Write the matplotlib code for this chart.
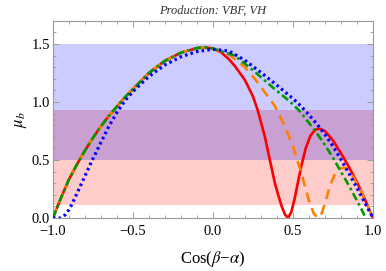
import numpy as np
import matplotlib
matplotlib.use("Agg")
import matplotlib.pyplot as plt
from matplotlib.ticker import MultipleLocator

plt.rcParams['font.family'] = ['Liberation Serif', 'DejaVu Serif']
plt.rcParams['mathtext.fontset'] = 'stix'

# values
left_x = [-1.0, -0.975, -0.95, -0.9, -0.85, -0.8, -0.75, -0.7, -0.65, -0.6, -0.55, -0.5,
          -0.4, -0.3, -0.2, -0.1, -0.05, 0.0]
left_y = [0.0, 0.085, 0.17, 0.33, 0.46, 0.58, 0.69, 0.79, 0.88, 0.96, 1.04, 1.11,
          1.25, 1.355, 1.425, 1.465, 1.472, 1.462]

red_x = left_x + [0.05, 0.1, 0.1375, 0.2, 0.25, 0.28, 0.325,
                  0.356, 0.3875, 0.41, 0.43, 0.45, 0.47, 0.49, 0.51, 0.535, 0.555, 0.58, 0.61,
                  0.64, 0.667, 0.7, 0.75, 0.8, 0.85, 0.9, 0.95, 1.0]
red_y = left_y + [1.43, 1.37, 1.31, 1.19, 1.05, 0.93, 0.70,
                  0.5, 0.30, 0.19, 0.10, 0.03, 0.0, 0.05, 0.16, 0.33, 0.46, 0.60, 0.71,
                  0.76, 0.77, 0.75, 0.67, 0.56, 0.44, 0.31, 0.16, 0.0]

orange_x = left_x + [0.1, 0.2, 0.2625, 0.3, 0.3875, 0.45, 0.5,
                     0.55, 0.6, 0.63, 0.655, 0.68, 0.7, 0.73, 0.76, 0.8, 0.83, 0.86, 0.9, 0.95, 1.0]
orange_y = left_y + [1.41, 1.30, 1.20, 1.13, 0.965, 0.79, 0.62,
                     0.40, 0.15, 0.04, 0.0, 0.04, 0.12, 0.27, 0.37, 0.43, 0.43, 0.39, 0.30, 0.16, 0.0]

green_x = left_x + [0.1375, 0.2625, 0.3875, 0.45, 0.5, 0.55, 0.6,
                    0.65, 0.7, 0.75, 0.8, 0.85, 0.9, 0.93, 0.955]
green_y = left_y + [1.40, 1.26, 1.11, 1.04, 0.98, 0.91, 0.82,
                    0.73, 0.63, 0.52, 0.40, 0.28, 0.15, 0.07, 0.0]

blue_x = [-1.0, -0.95, -0.92, -0.9, -0.88, -0.85, -0.8, -0.75, -0.7, -0.65, -0.6, -0.55,
          -0.5, -0.4, -0.3, -0.2, -0.1, 0.0, 0.1, 0.2, 0.3, 0.4, 0.5, 0.55, 0.6, 0.65,
          0.7, 0.75, 0.8, 0.85, 0.9, 0.95, 1.0]
blue_y = [0.0, 0.0, 0.03, 0.07, 0.12, 0.21, 0.36, 0.51, 0.65, 0.79, 0.91, 1.01,
          1.09, 1.22, 1.32, 1.39, 1.435, 1.455, 1.44, 1.36, 1.255, 1.145, 1.03, 0.965, 0.89, 0.81,
          0.72, 0.62, 0.505, 0.385, 0.26, 0.13, 0.0]

band_blue = (0.5, 1.5)
band_red = (0.113, 0.93)

fig = plt.figure(figsize=(3.86, 2.71), dpi=100)
ax = fig.add_axes([0.137, 0.196, 0.829, 0.727])

ax.axhspan(band_blue[0], band_blue[1], color='#ccccff', lw=0, zorder=0)
ax.axhspan(band_red[0], band_red[1], color='#ffcccc', lw=0, zorder=0)
ax.axhspan(band_blue[0], band_red[1], color='#c8a0d2', lw=0, zorder=0)

ax.plot(red_x, red_y, color='#ff0000', lw=1.9, zorder=1)
ax.plot(orange_x, orange_y, color='#ff8000', lw=1.9, ls=(0, (3.8, 2.4)), zorder=2)
ax.plot(green_x, green_y, color='#009900', lw=1.9, ls=(0, (3, 1.3, 1, 1.3)), zorder=3)
ax.plot(blue_x, blue_y, color='#0000ff', lw=2.3, ls=(0, (0.8, 1.0)), zorder=4)

ax.set_xlim(-1, 1)
ax.set_ylim(0, 1.7)
ax.xaxis.set_major_locator(MultipleLocator(0.5))
ax.xaxis.set_minor_locator(MultipleLocator(0.1))
ax.yaxis.set_major_locator(MultipleLocator(0.5))
ax.yaxis.set_minor_locator(MultipleLocator(0.1))
ax.xaxis.set_major_formatter(plt.FuncFormatter(lambda v, p: ('%.1f' % v).replace('-', '\u2212')))
ax.yaxis.set_major_formatter(plt.FuncFormatter(lambda v, p: '%.1f' % v))
ax.tick_params(which='both', direction='in', top=True, right=True, color='#999999', labelsize=10.5)
ax.tick_params(axis='x', pad=5)
ax.tick_params(axis='y', pad=2)
ax.tick_params(which='major', length=4, width=0.7)
ax.tick_params(which='minor', length=2, width=0.6)
for s in ax.spines.values():
    s.set_color('#999999')
    s.set_linewidth(0.8)

ax.set_xlabel('Cos($\\beta$\u2212$\\alpha$)', fontsize=12, labelpad=8)
ax.set_ylabel('$\\mu_b$', fontsize=12, labelpad=2)
ax.set_title('Production: VBF, VH', fontsize=9, style='italic', color='#333333', pad=5)

fig.savefig('out.png', dpi=100)
